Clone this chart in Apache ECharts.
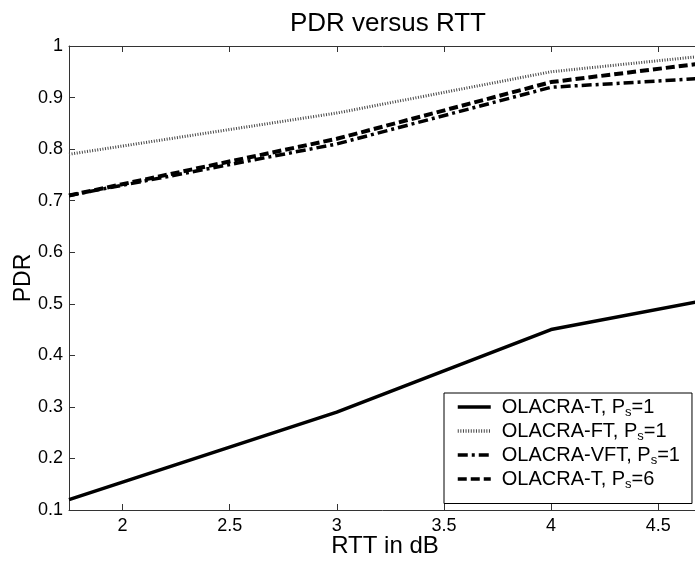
<!DOCTYPE html>
<html>
<head>
<meta charset="utf-8">
<script src="https://cdn.jsdelivr.net/npm/echarts@6/dist/echarts.min.js"></script>
<style>html,body{margin:0;padding:0;background:#fff;}#c{width:695px;height:562px;}</style>
</head>
<body>
<div id="c"></div>
<script>
// RTT values (x) where the curves are read
const rtt = [1.75, 3, 4, 4.7];
// Series values (PDR)
const olacraT1 = [0.12, 0.29, 0.45, 0.505];
const olacraFT1 = [0.79, 0.87, 0.95, 0.98];
const olacraVFT1 = [0.71, 0.81, 0.92, 0.937];
const olacraT6 = [0.71, 0.82, 0.93, 0.966];
// Tick labels
const xTicks = [2, 2.5, 3, 3.5, 4, 4.5];
const seriesNames = ['OLACRA-T, P{s|s}=1', 'OLACRA-FT, P{s|s}=1', 'OLACRA-VFT, P{s|s}=1', 'OLACRA-T, P{s|s}=6'];

const FONT = '"Liberation Sans", Arial, sans-serif';
const pair = arr => rtt.map((x, i) => [x, arr[i]]);

const chart = echarts.init(document.getElementById('c'), null, {renderer: 'canvas'});
const axisLineStyle = {color: '#333', width: 1};
const option = {
  animation: false,
  backgroundColor: '#fff',
  title: {
    text: 'PDR versus RTT', left: 383, top: 6, textAlign: 'center',
    textStyle: {fontFamily: FONT, fontSize: 26, fontWeight: 'normal', color: '#000'}
  },
  grid: {left: 69, top: 46, right: -6, bottom: 52, show: false, containLabel: false, outerBoundsMode: 'none'},
  legend: {
    orient: 'vertical', left: 444, top: 393,
    backgroundColor: '#fff', borderColor: '#000', borderWidth: 1,
    padding: [4, 12, 13, 12], itemGap: 2.5, itemWidth: 33, itemHeight: 14,
    itemStyle: {opacity: 0, borderWidth: 0},
    lineStyle: {width: 3.5},
    textStyle: {
      fontFamily: FONT, fontSize: 20, color: '#000', padding: [0, 0, 0, 6],
      rich: {s: {fontFamily: FONT, fontSize: 13, color: '#000', padding: [10, 0, 0, 0]}}
    },
    data: seriesNames.map(n => ({name: n}))
  },
  xAxis: [{
    type: 'value', min: 1.75, max: 4.7, position: 'bottom',
    name: 'RTT in dB', nameLocation: 'middle', nameGap: 24, nameMoveOverlap: false,
    nameTextStyle: {fontFamily: FONT, fontSize: 24, color: '#000'},
    axisLine: {show: true, onZero: false, lineStyle: axisLineStyle},
    axisTick: {show: true, inside: true, length: 6, lineStyle: axisLineStyle, customValues: xTicks},
    axisLabel: {fontFamily: FONT, fontSize: 18, color: '#000', margin: 7, customValues: xTicks},
    splitLine: {show: false}
  }, {
    type: 'value', min: 1.75, max: 4.7, position: 'top',
    axisLine: {show: true, onZero: false, lineStyle: axisLineStyle},
    axisTick: {show: true, inside: true, length: 6, lineStyle: axisLineStyle, customValues: xTicks},
    axisLabel: {show: false}, splitLine: {show: false}
  }],
  yAxis: [{
    type: 'value', min: 0.1, max: 1, interval: 0.1, position: 'left',
    name: 'PDR', nameLocation: 'middle', nameGap: 34, nameMoveOverlap: false,
    nameTextStyle: {fontFamily: FONT, fontSize: 23, color: '#000'},
    axisLine: {show: true, onZero: false, lineStyle: axisLineStyle},
    axisTick: {show: true, inside: true, length: 6, lineStyle: axisLineStyle},
    axisLabel: {fontFamily: FONT, fontSize: 18, color: '#000', margin: 6},
    splitLine: {show: false}
  }, {
    type: 'value', min: 0.1, max: 1, interval: 0.1, position: 'right',
    axisLine: {show: true, onZero: false, lineStyle: axisLineStyle},
    axisTick: {show: true, inside: true, length: 6, lineStyle: axisLineStyle},
    axisLabel: {show: false}, splitLine: {show: false}
  }],
  series: [
    {name: seriesNames[0], type: 'line', symbol: 'none', data: pair(olacraT1),
     lineStyle: {color: '#000', width: 3.5, type: 'solid'}, itemStyle: {color: '#000'}},
    {name: seriesNames[1], type: 'line', symbol: 'none', data: pair(olacraFT1),
     lineStyle: {color: '#444', width: 3, type: [1, 1.6]}, itemStyle: {color: '#444'}},
    {name: seriesNames[2], type: 'line', symbol: 'none', data: pair(olacraVFT1),
     lineStyle: {color: '#000', width: 3.5, type: [10, 4, 3, 4]}, itemStyle: {color: '#000'}},
    {name: seriesNames[3], type: 'line', symbol: 'none', data: pair(olacraT6),
     lineStyle: {color: '#000', width: 4, type: [9, 4]}, itemStyle: {color: '#000'}}
  ]
};
chart.setOption(option);
</script>
</body>
</html>
